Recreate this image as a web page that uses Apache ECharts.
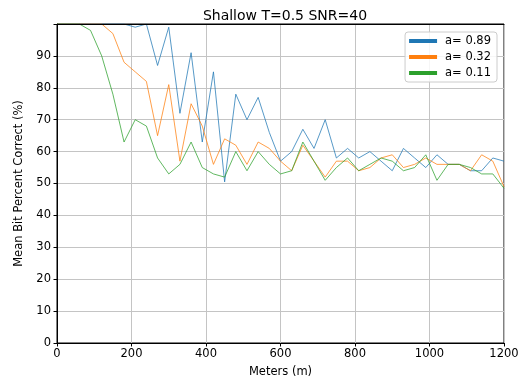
<!DOCTYPE html>
<html>
<head>
<meta charset="utf-8">
<script src="https://cdn.jsdelivr.net/npm/echarts@6/dist/echarts.min.js"></script>
<style>html,body{margin:0;padding:0;background:#fff}#c{width:522px;height:386px}</style>
</head>
<body>
<div id="c"></div>
<script>
const distances = [0,30,60,90,120,150,180,210,240,270,300,330,360,390,420,450,480,510,540,570,600,630,660,690,720,750,780,810,840,870,900,930,960,990,1020,1050,1080,1110,1140,1170,1200];
const seriesNames = ['a= 0.89','a= 0.32','a= 0.11'];
const a089 = [100,100,100,100,100,100,100,99,100,87,99,72,91,63,85,50.5,78,70,77,66,57,60,67,61,70,58,61,58,60,57,54,61,58,55,59,56,56,54,54,58,57];
const a032 = [100,100,100,100,100,97,88,85,82,65,81,57,75,68,56,64,62,56,63,61,57,54,62,57,52,57,57,54,55,58,59,55,56,58,56,56,56,54,59,57,49];
const a011 = [100,100,100,98,90,78,63,70,68,58,53,56,63,55,53,52,60,54,60,56,53,54,63,57,51,55,58,54,56,58,57,54,55,59,51,56,56,55,53,53,48.5];
const xTicks = [0,200,400,600,800,1000,1200];
const yTicks = [0,10,20,30,40,50,60,70,80,90];
const colors = ['#1f77b4','#ff7f0e','#2ca02c'];

const chart = echarts.init(document.getElementById('c'), null, {renderer:'canvas'});
const font = 'DejaVu Sans';
function mk(vals){ return distances.map((d,i)=>[d, vals[i]]); }
const allVals = [a089, a032, a011];
chart.setOption({
  animation:false,
  backgroundColor:'#fff',
  title:{text:'Shallow T=0.5 SNR=40', left:280, textAlign:'center', top:4,
    textStyle:{fontFamily:font, fontSize:14, fontWeight:'normal', color:'#000'}},
  legend:{
    orient:'vertical', right:25, top:32, z:20,
    data:seriesNames.map((n,i)=>({name:n, icon:'rect', itemStyle:{color:colors[i]}})),
    itemWidth:28, itemHeight:4, itemGap:4,
    backgroundColor:'rgba(255,255,255,0.85)', borderColor:'#cccccc', borderWidth:1, borderRadius:3,
    padding:[3,6,3,4],
    textStyle:{fontFamily:font, fontSize:11.5, color:'#000', padding:[0,0,0,3]}
  },
  grid:{left:57, right:18, top:24, bottom:43, show:true, borderColor:'#000', borderWidth:1, containLabel:false},
  xAxis:[{type:'value', min:0, max:1200, interval:200,
    name:'Meters (m)', nameLocation:'middle', nameGap:23,
    nameTextStyle:{fontFamily:font, fontSize:11.5, color:'#000'},
    axisLine:{show:true, lineStyle:{color:'#000', width:1}},
    axisTick:{show:true, length:3.5, lineStyle:{color:'#000'}},
    axisLabel:{fontFamily:font, fontSize:11.5, color:'#000', margin:5,
      formatter:v=> xTicks.indexOf(v)>=0 ? String(v) : ''},
    splitLine:{show:true, lineStyle:{color:'#c4c4c4', width:1}}
  },{type:'value', position:'top', min:0, max:1200, interval:200, z:10,
    axisLine:{show:true, onZero:false, lineStyle:{color:'#000', width:1}},
    axisTick:{show:false}, axisLabel:{show:false}, splitLine:{show:false}
  }],
  yAxis:{type:'value', min:0, max:100, interval:10,
    name:'Mean Bit Percent Correct (%)', nameLocation:'middle', nameGap:32,
    nameTextStyle:{fontFamily:font, fontSize:11.5, color:'#000'},
    axisLine:{show:true, lineStyle:{color:'#000', width:1}},
    axisTick:{show:true, length:3.5, lineStyle:{color:'#000'}},
    axisLabel:{fontFamily:font, fontSize:11.5, color:'#000', margin:6,
      formatter:v=> yTicks.indexOf(v)>=0 ? String(v) : ''},
    splitLine:{show:true, lineStyle:{color:'#c4c4c4', width:1}}
  },
  series:seriesNames.map((n,i)=>({
    name:n, type:'line', xAxisIndex:0, data:mk(allVals[i]), showSymbol:false, symbol:'none',
    clip:true, lineStyle:{color:colors[i], width:1, opacity:0.75}, itemStyle:{color:colors[i]}
  }))
});
</script>
</body>
</html>
